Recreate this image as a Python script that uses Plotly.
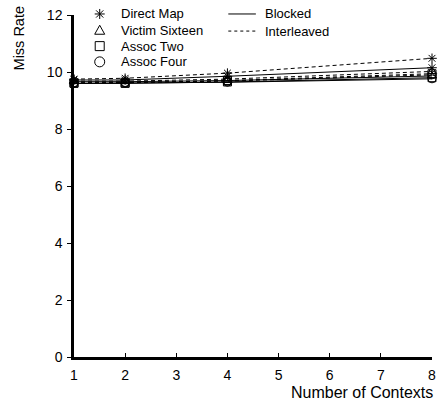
import plotly.graph_objects as go

contexts = [1, 2, 4, 8]

schemes = ["Direct Map", "Victim Sixteen", "Assoc Two", "Assoc Four"]
symbols = ["asterisk-open", "triangle-up-open", "square-open", "circle-open"]

blocked = {
    "Direct Map":     [9.72, 9.72, 9.85, 10.15],
    "Victim Sixteen": [9.66, 9.66, 9.70, 9.86],
    "Assoc Two":      [9.60, 9.60, 9.65, 9.80],
    "Assoc Four":     [9.60, 9.61, 9.64, 9.76],
}
interleaved = {
    "Direct Map":     [9.75, 9.78, 9.96, 10.48],
    "Victim Sixteen": [9.68, 9.68, 9.75, 10.02],
    "Assoc Two":      [9.62, 9.62, 9.70, 9.94],
    "Assoc Four":     [9.62, 9.63, 9.68, 9.90],
}

y_ticks = [0, 2, 4, 6, 8, 10, 12]
x_ticks = [1, 2, 3, 4, 5, 6, 7, 8]

FONT = "Liberation Sans, Arial, sans-serif"

fig = go.Figure()
for name, sym in zip(schemes, symbols):
    for data, dash in ((blocked, "solid"), (interleaved, "4px,3px")):
        fig.add_trace(go.Scatter(
            x=contexts, y=data[name], mode="lines+markers",
            line=dict(color="black", width=1, dash=dash),
            marker=dict(symbol=sym, size=8, color="black",
                        line=dict(color="black", width=1)),
            showlegend=False, cliponaxis=False,
        ))

fig.update_layout(
    width=439, height=407,
    margin=dict(l=74, r=3, t=15, b=50),
    paper_bgcolor="white", plot_bgcolor="white",
    font=dict(family=FONT, size=14, color="black"),
    xaxis=dict(range=[1, 8], tickvals=x_ticks, showgrid=False, zeroline=False,
               showline=True, linewidth=2.5, linecolor="black",
               ticks="inside", ticklen=4, tickcolor="black",
               ticklabeloverflow="allow", ticklabelstandoff=3),
    yaxis=dict(range=[0, 12], tickvals=y_ticks, showgrid=False, zeroline=False,
               showline=True, linewidth=2.5, linecolor="black",
               ticks="outside", ticklen=4, tickcolor="black",
               ticklabelstandoff=2),
)

annotations = [
    dict(text="Miss Rate", x=-0.155, y=0.93, xref="paper", yref="paper",
         textangle=-90, xanchor="center", yanchor="middle",
         showarrow=False, font=dict(size=14.5)),
    dict(text="Number of Contexts", x=1.008, y=-0.105, xref="paper", yref="paper",
         xanchor="right", yanchor="middle", showarrow=False, font=dict(size=16)),
]

# symbol key: glyphs drawn as small pixel-sized shapes beside each label
key_x = 0.0718
text_x = 0.127
rows_y = [1.003, 0.956, 0.909, 0.863]
glyph_paths = {
    "Direct Map": "M-5,0L5,0M0,-5L0,5M-3.6,-3.6L3.6,3.6M-3.6,3.6L3.6,-3.6",
    "Victim Sixteen": "M-5,-4.2L5,-4.2L0,4.8Z",
}
shapes = []
for name, yy in zip(schemes, rows_y):
    common = dict(xref="paper", yref="paper", xsizemode="pixel", ysizemode="pixel",
                  xanchor=key_x, yanchor=yy, line=dict(color="black", width=1))
    if name in glyph_paths:
        shapes.append(dict(type="path", path=glyph_paths[name], **common))
    elif name == "Assoc Two":
        shapes.append(dict(type="rect", x0=-4.5, x1=4.5, y0=-4.5, y1=4.5, **common))
    else:
        shapes.append(dict(type="circle", x0=-5, x1=5, y0=-5, y1=5, **common))
    annotations.append(dict(text=name, x=text_x, y=yy, xref="paper", yref="paper",
                            xanchor="left", yanchor="middle", showarrow=False,
                            font=dict(size=13)))

# line style key
styles = [("Blocked", "solid", 1.003), ("Interleaved", "3px,3px", 0.953)]
for label, dash, yy in styles:
    shapes.append(dict(type="line", xref="paper", yref="paper",
                       x0=0.431, x1=0.508, y0=yy, y1=yy,
                       line=dict(color="black", width=1, dash=dash)))
    annotations.append(dict(text=label, x=0.528, y=yy, xref="paper", yref="paper",
                            xanchor="left", yanchor="middle", showarrow=False,
                            font=dict(size=13)))

fig.update_layout(annotations=annotations, shapes=shapes)
fig.write_html("out.html")
